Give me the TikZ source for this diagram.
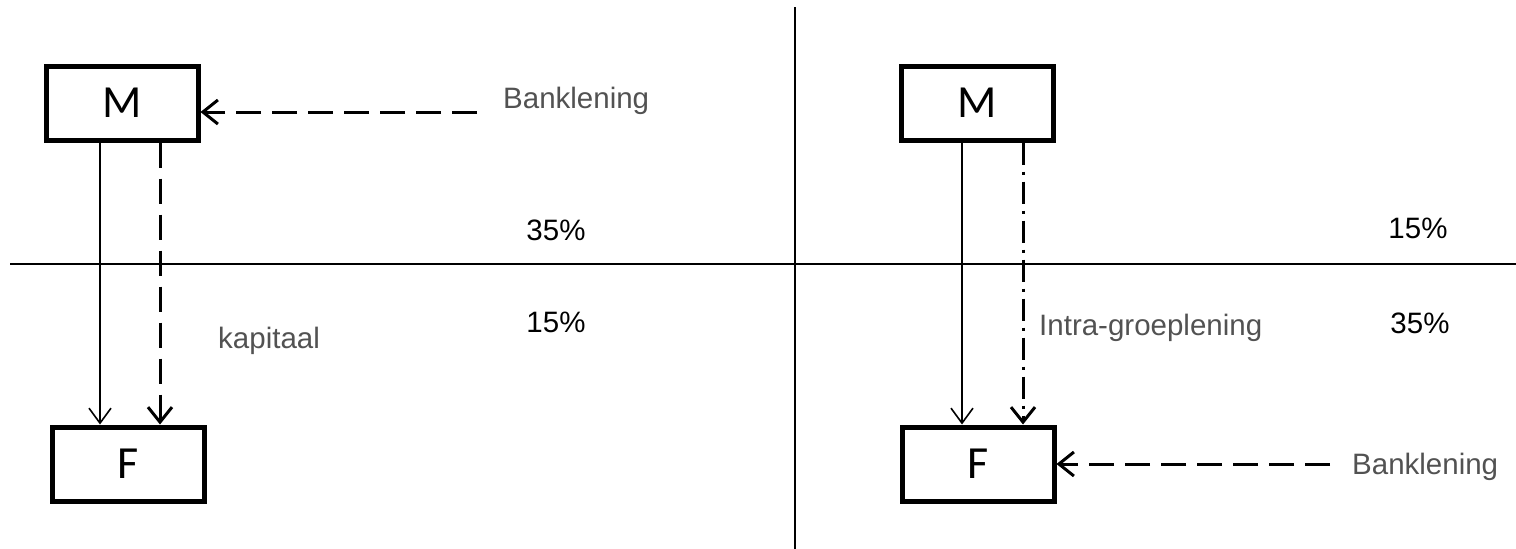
\documentclass[tikz,border=0pt]{standalone}
\usepackage{fontspec}
\setmainfont{Liberation Sans}
\newfontfamily\boxfont{Carlito}
\usepackage{tikz}
\usetikzlibrary{arrows.meta,calc}

\tikzset{
    entity/.style={draw, line width=5pt, minimum width=152pt, minimum height=74pt, inner sep=0pt, font=\boxfont\fontsize{46}{52}\selectfont},
    lbl/.style={text=black!68, font=\fontsize{29.5}{34}\selectfont, inner sep=0pt, anchor=base west},
    pct/.style={font=\fontsize{29.5}{34}\selectfont, inner sep=0pt, anchor=base},
    flow/.style={line width=1.6pt, -{Straight Barb[length=15pt,width=22pt,line width=1.6pt]}},
    loan/.style={line width=3pt, dash pattern=on 25pt off 11pt, -{Straight Barb[length=15pt,width=24pt,line width=3pt]}},
    intra/.style={line width=3pt, dash pattern=on 22pt off 7pt on 3pt off 7pt, -{Straight Barb[length=15pt,width=24pt,line width=3pt]}},
}

\begin{document}
\begin{tikzpicture}[x=1pt,y=-1pt]
                \useasboundingbox (0,0) rectangle (1516,549);

                % axes
                \coordinate (top) at (795,7);
                \coordinate (bot) at (795,549);
                \coordinate (west) at (10,264);
                \coordinate (east) at (1516,264);
                \draw[line width=2.4pt] (top) -- (bot);
                \draw[line width=2.4pt] (west) -- (east);

                % left: kapitaal
                \node[entity] (Ml) at (122,103) {M};
                \node[entity] (Fl) at (128,464) {F};
                \coordinate (sl) at (100,0);
                \coordinate (kl) at (160,0);
                \coordinate (bl) at (477,112);
                \draw[flow] (Ml.south -| sl) -- (Fl.north -| sl);
                \draw[loan] (Ml.south -| kl) -- (Fl.north -| kl);
                \draw[loan] (bl) -- (bl -| Ml.east);
                \node[lbl] (bankl) at (503,108) {Banklening};
                \node[lbl] (kap) at (218,348) {kapitaal};
                \node[pct] (pl1) at (556,240) {35\%};
                \node[pct] (pl2) at (556,332) {15\%};

                % right: intra-groeplening
                \node[entity] (Mr) at (977,103) {M};
                \node[entity] (Fr) at (978,464) {F};
                \coordinate (sr) at (962,0);
                \coordinate (ir) at (1023,0);
                \coordinate (br) at (1330,464);
                \draw[flow] (Mr.south -| sr) -- (Fr.north -| sr);
                \draw[intra] (Mr.south -| ir) -- (Fr.north -| ir);
                \draw[loan] (br) -- (Fr.east);
                \node[lbl] (bankr) at (1352,474) {Banklening};
                \node[lbl] (intra) at (1039,335) {Intra-groeplening};
                \node[pct] (pr1) at (1418,238) {15\%};
                \node[pct] (pr2) at (1420,333) {35\%};

            \end{tikzpicture}
\end{document}
